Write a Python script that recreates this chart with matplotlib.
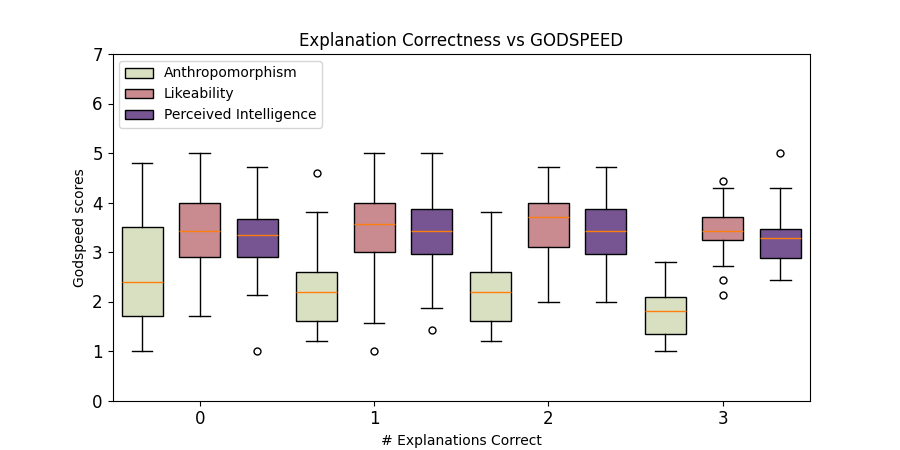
import matplotlib
matplotlib.use("Agg")
import matplotlib.pyplot as plt
from matplotlib.patches import Patch

categories = ["0", "1", "2", "3"]
series = ["Anthropomorphism", "Likeability", "Perceived Intelligence"]
colors = ["#d9dfc1", "#c98a90", "#765592"]

# per series: lists per category
whislo = {
    "Anthropomorphism": [1.0, 1.2, 1.2, 1.0],
    "Likeability": [1.71, 1.57, 2.0, 2.71],
    "Perceived Intelligence": [2.14, 1.86, 2.0, 2.43],
}
q1 = {
    "Anthropomorphism": [1.70, 1.6, 1.6, 1.35],
    "Likeability": [2.89, 3.0, 3.10, 3.25],
    "Perceived Intelligence": [2.89, 2.96, 2.96, 2.87],
}
med = {
    "Anthropomorphism": [2.4, 2.2, 2.2, 1.8],
    "Likeability": [3.43, 3.57, 3.71, 3.43],
    "Perceived Intelligence": [3.35, 3.43, 3.43, 3.28],
}
q3 = {
    "Anthropomorphism": [3.5, 2.6, 2.6, 2.1],
    "Likeability": [4.0, 4.0, 4.0, 3.71],
    "Perceived Intelligence": [3.67, 3.86, 3.86, 3.46],
}
whishi = {
    "Anthropomorphism": [4.8, 3.8, 3.8, 2.8],
    "Likeability": [5.0, 5.0, 4.72, 4.29],
    "Perceived Intelligence": [4.72, 5.0, 4.72, 4.29],
}
fliers = {
    "Anthropomorphism": [[], [4.6], [], []],
    "Likeability": [[], [1.0], [], [4.43, 2.43, 2.14]],
    "Perceived Intelligence": [[1.0], [1.42], [], [5.0]],
}

offsets = [-0.33, 0.0, 0.33]
width = 0.235

fig, ax = plt.subplots(figsize=(9, 4.5), dpi=100)

for s, name in enumerate(series):
    stats = []
    for i in range(len(categories)):
        stats.append(dict(
            whislo=whislo[name][i], q1=q1[name][i], med=med[name][i],
            q3=q3[name][i], whishi=whishi[name][i], fliers=fliers[name][i],
        ))
    positions = [i + offsets[s] for i in range(len(categories))]
    ax.bxp(stats, positions=positions, widths=width, patch_artist=True,
           showfliers=True, manage_ticks=False,
           boxprops=dict(facecolor=colors[s], edgecolor="black", linewidth=1.0),
           whiskerprops=dict(linewidth=1.0),
           capprops=dict(linewidth=1.0),
           flierprops=dict(marker="o", markersize=5, markerfacecolor="none",
                           markeredgecolor="black", markeredgewidth=1.0),
           medianprops=dict(color="#ff7f0e", linewidth=1.0))

ax.set_xticks(range(len(categories)))
ax.set_xticklabels(categories, fontsize=12)
ax.tick_params(axis="y", labelsize=12)
ax.set_xlim(-0.5, 3.5)
ax.set_ylim(0, 7)
ax.set_xlabel("# Explanations Correct", fontsize=10)
ax.set_ylabel("Godspeed scores", fontsize=10)
ax.set_title("Explanation Correctness vs GODSPEED", fontsize=12)

handles = [Patch(facecolor=c, edgecolor="black", label=n) for c, n in zip(colors, series)]
ax.legend(handles=handles, loc="upper left", fontsize=10)

fig.savefig("out.png", dpi=100)
